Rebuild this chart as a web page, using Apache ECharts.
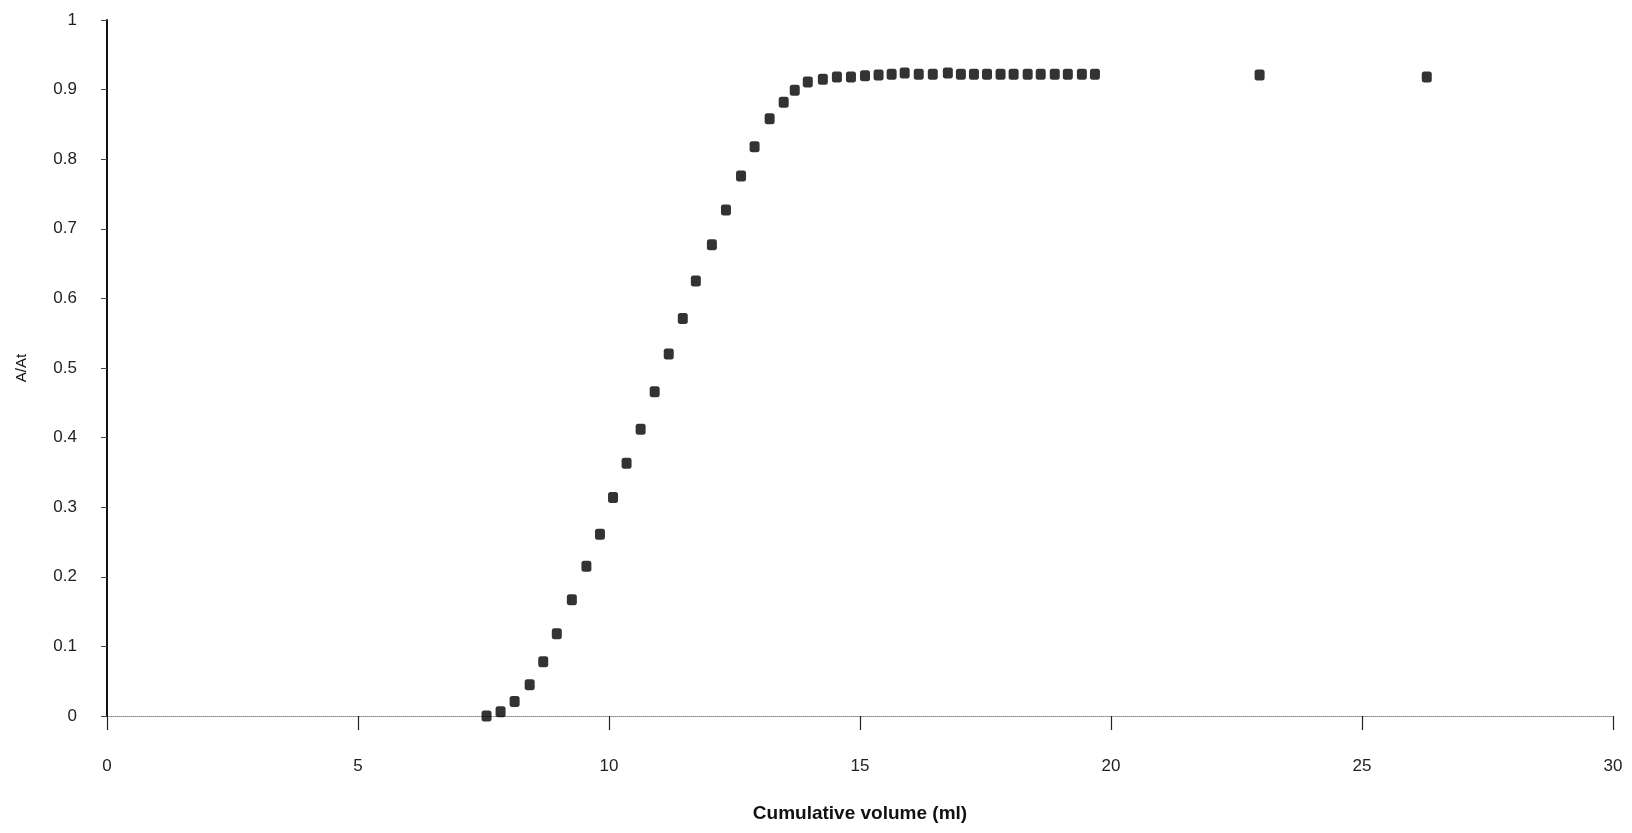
<!DOCTYPE html>
<html>
<head>
<meta charset="utf-8">
<script src="https://cdn.jsdelivr.net/npm/echarts@6/dist/echarts.min.js"></script>
<style>
html,body{margin:0;padding:0;background:#fff;}
#chart{width:1632px;height:833px;}
</style>
</head>
<body>
<div id="chart"></div>
<script>
const volume = [7.56, 7.84, 8.12, 8.42, 8.69, 8.96, 9.26, 9.55, 9.82, 10.08,
  10.35, 10.63, 10.91, 11.19, 11.47, 11.73, 12.05, 12.33, 12.63, 12.90,
  13.20, 13.48, 13.70, 13.96, 14.26, 14.54, 14.82, 15.10, 15.37, 15.63,
  15.89, 16.17, 16.45, 16.75, 17.01, 17.27, 17.53, 17.80, 18.06, 18.34,
  18.60, 18.88, 19.14, 19.42, 19.68, 22.96, 26.29];
const ratio = [0.000, 0.006, 0.021, 0.045, 0.078, 0.118, 0.167, 0.215, 0.261, 0.314,
  0.363, 0.412, 0.466, 0.520, 0.571, 0.625, 0.677, 0.727, 0.776, 0.818,
  0.858, 0.882, 0.899, 0.911, 0.915, 0.918, 0.918, 0.920, 0.921, 0.922,
  0.924, 0.922, 0.922, 0.924, 0.922, 0.922, 0.922, 0.922, 0.922, 0.922,
  0.922, 0.922, 0.922, 0.922, 0.922, 0.921, 0.918];
const xTicks = [0, 5, 10, 15, 20, 25, 30];
const yTicks = [0, 0.1, 0.2, 0.3, 0.4, 0.5, 0.6, 0.7, 0.8, 0.9, 1];
const xTitle = 'Cumulative volume (ml)';
const yTitle = 'A/At';

const points = volume.map((v, i) => [v, ratio[i]]);
const chart = echarts.init(document.getElementById('chart'));
chart.setOption({
  animation: false,
  backgroundColor: '#fff',
  grid: {left: 107, right: 19, top: 20, bottom: 117, containLabel: false},
  xAxis: {
    type: 'value', min: xTicks[0], max: xTicks[xTicks.length - 1], interval: 5,
    axisLine: {show: true, lineStyle: {color: '#888', type: 'dotted', width: 1}},
    axisTick: {show: true, length: 14, lineStyle: {color: '#222', width: 1.2}},
    splitLine: {show: false},
    axisLabel: {margin: 42, fontSize: 17, color: '#222', fontFamily: 'Liberation Sans'},
    name: xTitle, nameLocation: 'middle', nameGap: 88,
    nameTextStyle: {fontSize: 19, color: '#111', fontFamily: 'Liberation Sans', fontWeight: 'bold'}
  },
  yAxis: {
    type: 'value', min: 0, max: 1, interval: 0.1,
    axisLine: {show: true, lineStyle: {color: '#111', width: 2}},
    axisTick: {show: true, length: 6, lineStyle: {color: '#444', width: 1}},
    splitLine: {show: false},
    axisLabel: {margin: 30, fontSize: 17, color: '#222', fontFamily: 'Liberation Sans',
      formatter: v => yTicks.indexOf(Math.round(v * 10) / 10) >= 0 ? String(Math.round(v * 10) / 10) : ''},
    name: yTitle, nameLocation: 'middle', nameGap: 78, nameRotate: 90,
    nameTextStyle: {fontSize: 15, color: '#111', fontFamily: 'Liberation Sans'}
  },
  series: [{
    type: 'scatter',
    data: points,
    symbol: 'roundRect',
    symbolSize: [10, 11],
    itemStyle: {color: '#000'}
  }]
});
</script>
</body>
</html>
